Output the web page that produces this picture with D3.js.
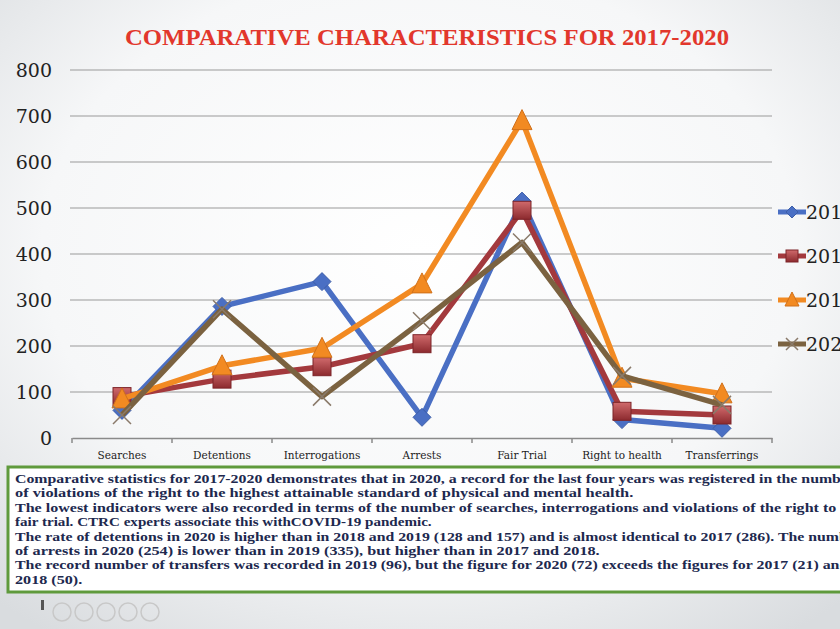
<!DOCTYPE html>
<html>
<head>
<meta charset="utf-8">
<style>
  body { margin: 0; overflow: hidden; }
  svg { display: block; }
</style>
<script src="https://cdn.jsdelivr.net/npm/d3@7"></script>
</head>
<body>
<svg id="chart" width="840" height="629"></svg>
<script>
// data
let categories = ["Searches", "Detentions", "Interrogations", "Arrests", "Fair Trial", "Right to health", "Transferrings"]
let years = ["2017", "2018", "2019", "2020"]
let v2017 = [60, 286, 340, 45, 515, 40, 21]
let v2018 = [90, 128, 155, 205, 495, 58, 50]
let v2019 = [85, 157, 195, 335, 690, 130, 96]
let v2020 = [50, 280, 90, 254, 425, 135, 72]
let yTicks = [0, 100, 200, 300, 400, 500, 600, 700, 800]
let noteLines = [
  "Comparative statistics for 2017-2020 demonstrates that in 2020, a record for the last four years was registered in the number",
  "of violations of the right to the highest attainable standard of physical and mental health.",
  "The lowest indicators were also recorded in terms of the number of searches, interrogations and violations of the right to a",
  "fair trial. CTRC experts associate this withCOVID-19 pandemic.",
  "The rate of detentions in 2020 is higher than in 2018 and 2019 (128 and 157) and is almost identical to 2017 (286). The number",
  "of arrests in 2020 (254) is lower than in 2019 (335), but higher than in 2017 and 2018.",
  "The record number of transfers was recorded in 2019 (96), but the figure for 2020 (72) exceeds the figures for 2017 (21) and",
  "2018 (50)."
]

let series = [
  {name: years[0], values: v2017, color: "#4a6fc4", marker: "diamond"},
  {name: years[1], values: v2018, color: "#a3393d", marker: "square"},
  {name: years[2], values: v2019, color: "#f28a22", marker: "triangle"},
  {name: years[3], values: v2020, color: "#7b6240", marker: "x"}
]

let svg = d3.select("#chart")
let W = 840, H = 629

// slide background
let defs = svg.append("defs")
let bg = defs.append("radialGradient").attr("id", "bg")
  .attr("cx", "50%").attr("cy", "40%").attr("r", "75%")
bg.append("stop").attr("offset", "0%").attr("stop-color", "#ffffff")
bg.append("stop").attr("offset", "60%").attr("stop-color", "#f6f7f8")
bg.append("stop").attr("offset", "100%").attr("stop-color", "#d9dcdf")
svg.append("rect").attr("width", W).attr("height", H).attr("fill", "url(#bg)")

let sq = defs.append("linearGradient").attr("id", "sq").attr("x1", 0).attr("y1", 0).attr("x2", 0).attr("y2", 1)
sq.append("stop").attr("offset", "0%").attr("stop-color", "#d06a6c")
sq.append("stop").attr("offset", "100%").attr("stop-color", "#8c2a2e")

svg.append("text")
  .attr("x", 427).attr("y", 45)
  .attr("text-anchor", "middle")
  .attr("font-family", "Liberation Serif, serif")
  .attr("font-weight", "bold")
  .attr("font-size", 23)
  .attr("fill", "#e2372c")
  .attr("textLength", 604)
  .attr("lengthAdjust", "spacingAndGlyphs")
  .text("COMPARATIVE CHARACTERISTICS FOR 2017-2020")

let x = d3.scaleBand().domain(categories).range([72, 772])
let y = d3.scaleLinear().domain([0, 800]).range([438, 70])

// gridlines
svg.append("g").selectAll("line").data(yTicks.slice(1)).enter().append("line")
  .attr("x1", 70).attr("x2", 772)
  .attr("y1", d => y(d)).attr("y2", d => y(d))
  .attr("stroke", "#9a9a9a").attr("stroke-width", 1.2)

// y axis
let yAxis = svg.append("g").attr("transform", "translate(70,0)")
  .call(d3.axisLeft(y).tickValues(yTicks).tickSize(0).tickPadding(18))
yAxis.select(".domain").remove()
yAxis.selectAll("text")
  .attr("font-family", "DejaVu Serif, serif")
  .attr("font-size", 19)
  .attr("fill", "#222")

// x axis
let xAxis = svg.append("g").attr("transform", "translate(0,438)")
  .call(d3.axisBottom(x).tickSize(0).tickPadding(14))
xAxis.select(".domain").attr("stroke", "#8a8a8a").attr("stroke-width", 1.5)
xAxis.selectAll("text")
  .attr("font-family", "DejaVu Serif, serif")
  .attr("font-size", 10.5)
  .attr("fill", "#222")
xAxis.selectAll(".sep").data(d3.range(categories.length + 1)).enter().append("line")
  .attr("x1", i => 72 + i * x.step()).attr("x2", i => 72 + i * x.step())
  .attr("y1", 0).attr("y2", 5)
  .attr("stroke", "#8a8a8a").attr("stroke-width", 1.5)

function drawMarker(g, s, cx, cy, size) {
  if (s.marker == "diamond") {
    g.append("path").attr("d", `M${cx},${cy - size}L${cx + size},${cy}L${cx},${cy + size}L${cx - size},${cy}Z`)
      .attr("fill", s.color).attr("stroke", "#3d5ea8").attr("stroke-width", 1)
  } else if (s.marker == "square") {
    g.append("rect").attr("x", cx - size).attr("y", cy - size).attr("width", size * 2).attr("height", size * 2)
      .attr("fill", "url(#sq)").attr("stroke", "#7d2428").attr("stroke-width", 1)
  } else if (s.marker == "triangle") {
    g.append("path").attr("d", `M${cx},${cy - size - 2}L${cx + size + 1},${cy + size}L${cx - size - 1},${cy + size}Z`)
      .attr("fill", s.color).attr("stroke", "#d0701a").attr("stroke-width", 1)
  } else {
    g.append("path").attr("d", `M${cx - size},${cy - size}L${cx + size},${cy + size}M${cx - size},${cy + size}L${cx + size},${cy - size}`)
      .attr("stroke", "#8a7a6a").attr("stroke-width", 1.5)
  }
}

let line = d3.line()
  .x((d, i) => x(categories[i]) + x.bandwidth() / 2)
  .y(d => y(d))

for (let s of series) {
  let g = svg.append("g")
  g.append("path").datum(s.values)
    .attr("d", line)
    .attr("fill", "none")
    .attr("stroke", s.color)
    .attr("stroke-width", 5.5)
    .attr("stroke-linejoin", "round")
  s.values.forEach((v, i) => drawMarker(g, s, x(categories[i]) + x.bandwidth() / 2, y(v), 9))
}

// legend (cut off at the right edge, as in the slide)
let legend = svg.append("g")
series.forEach((s, i) => {
  let ly = 212 + i * 44
  legend.append("line").attr("x1", 778).attr("x2", 806).attr("y1", ly).attr("y2", ly)
    .attr("stroke", s.color).attr("stroke-width", 5)
  drawMarker(legend, s, 792, ly, 6)
  legend.append("text").attr("x", 806).attr("y", ly + 7)
    .attr("font-family", "DejaVu Serif, serif")
    .attr("font-size", 19)
    .attr("fill", "#222")
    .text(s.name)
})

// note box
svg.append("rect").attr("x", 8).attr("y", 467).attr("width", 850).attr("height", 125)
  .attr("fill", "#ffffff").attr("stroke", "#5f9a3c").attr("stroke-width", 3)
svg.append("g").selectAll("text").data(noteLines).enter().append("text")
  .attr("x", 15)
  .attr("y", (d, i) => 483 + i * 14.4)
  .attr("font-family", "Liberation Serif, serif")
  .attr("font-weight", "bold")
  .attr("font-size", 13.5)
  .attr("fill", "#20284e")
  .attr("textLength", (d, i) => d.length * 6.72)
  .attr("lengthAdjust", "spacingAndGlyphs")
  .text(d => d)

// slide navigation dots
svg.append("rect").attr("x", 41).attr("y", 600).attr("width", 3).attr("height", 10).attr("fill", "#555")
svg.append("g").selectAll("circle").data([0, 1, 2, 3, 4]).enter().append("circle")
  .attr("cx", d => 62 + d * 22).attr("cy", 612).attr("r", 9)
  .attr("fill", "none").attr("stroke", "#c8c8c8").attr("stroke-width", 1.5)
</script>
</body>
</html>
